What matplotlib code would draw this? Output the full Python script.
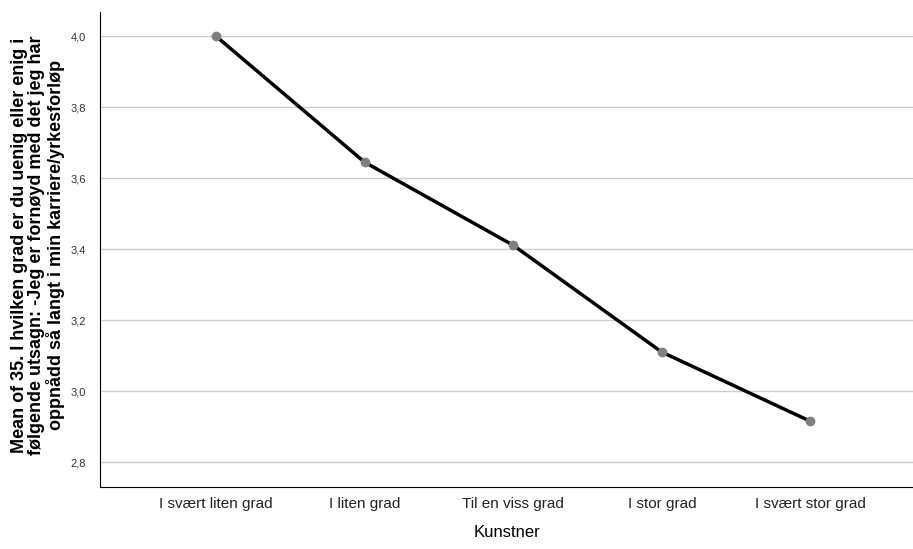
import matplotlib
matplotlib.use("Agg")
import matplotlib.pyplot as plt

categories = ['I svært liten grad', 'I liten grad', 'Til en viss grad', 'I stor grad', 'I svært stor grad']
means = [4.00, 3.645, 3.411, 3.110, 2.915]
yticks = [2.8, 3.0, 3.2, 3.4, 3.6, 3.8, 4.0]

plt.rcParams['font.family'] = ['Liberation Sans', 'DejaVu Sans']

fig = plt.figure(figsize=(9.13, 5.49), dpi=100)
ax = fig.add_axes([100 / 913, 62 / 549, 813 / 913, 475 / 549])

x = range(len(categories))
ax.plot(x, means, color='black', linewidth=2.5, zorder=3)
ax.plot(x, means, 'o', color='#808080', markersize=6, zorder=4)

ax.set_xlim(-0.78, 4.69)
ax.set_ylim(2.73, 4.068)
ax.set_yticks(yticks)
ax.set_yticklabels([f'{v:.1f}'.replace('.', ',') for v in yticks], fontsize=8, color='#333333')
ax.set_xticks(list(x))
ax.set_xticklabels(categories, fontsize=11, color='#222222')
ax.tick_params(axis='y', length=0, pad=10)
ax.tick_params(axis='x', length=0, pad=7)

ax.grid(axis='y', color='#cccccc', linewidth=1)
ax.set_axisbelow(True)
for s in ['top', 'right']:
    ax.spines[s].set_visible(False)
ax.spines['left'].set_color('black')
ax.spines['bottom'].set_color('black')

ax.set_xlabel('Kunstner', fontsize=12, labelpad=10)
# y-label placed by hand so its three lines sit where the reference has them
fig.text(38 / 913, 1 - 245 / 549,
         'Mean of 35. I hvilken grad er du uenig eller enig i\n'
         'følgende utsagn: -Jeg er fornøyd med det jeg har\n'
         'oppnådd så langt i min karriere/yrkesforløp',
         rotation=90, ha='center', va='center', multialignment='center',
         fontsize=13, fontweight='bold', linespacing=1.05)

fig.savefig('out.png', dpi=100)
